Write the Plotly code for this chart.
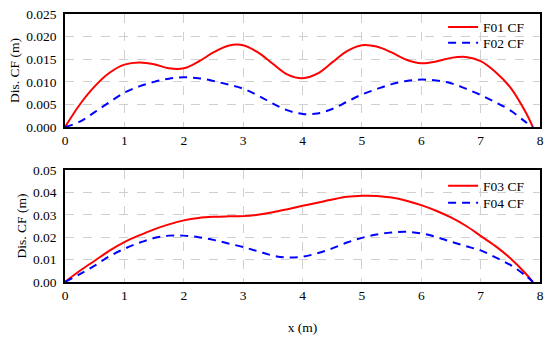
import plotly.graph_objects as go
from plotly.subplots import make_subplots

x = [0, 0.25, 0.5, 0.75, 1.0, 1.25, 1.5, 1.75, 2.0, 2.25, 2.5, 2.75, 3.0, 3.25, 3.5, 3.75,
     4.0, 4.25, 4.5, 4.75, 5.0, 5.25, 5.5, 5.75, 6.0, 6.25, 6.5, 6.75, 7.0, 7.25, 7.5, 7.75, 7.88]

f01 = [0, 0.0050, 0.0090, 0.0120, 0.0138, 0.0143, 0.0139, 0.0130, 0.0130, 0.0145, 0.0165, 0.0180,
       0.0181, 0.0165, 0.0140, 0.0116, 0.0108, 0.0118, 0.0143, 0.0168, 0.0181, 0.0178, 0.0165,
       0.0149, 0.0141, 0.0145, 0.0153, 0.0155, 0.0146, 0.0122, 0.0088, 0.0035, 0]
f02 = [0, 0.0012, 0.0033, 0.0055, 0.0076, 0.0090, 0.0100, 0.0107, 0.0110, 0.0108, 0.0102, 0.0094,
       0.0085, 0.0070, 0.0052, 0.0037, 0.0029, 0.0030, 0.0040, 0.0056, 0.0072, 0.0084, 0.0095,
       0.0102, 0.0105, 0.0103, 0.0097, 0.0085, 0.0071, 0.0055, 0.0037, 0.0012, 0]
f03 = [0, 0.0050, 0.0095, 0.0140, 0.0178, 0.0208, 0.0235, 0.0257, 0.0275, 0.0286, 0.0291, 0.0293,
       0.0294, 0.0300, 0.0311, 0.0325, 0.0340, 0.0354, 0.0368, 0.0380, 0.0385, 0.0384, 0.0377,
       0.0363, 0.0343, 0.0318, 0.0288, 0.0251, 0.0206, 0.0160, 0.0106, 0.0040, 0]
f04 = [0, 0.0035, 0.0073, 0.0115, 0.0148, 0.0175, 0.0196, 0.0207, 0.0207, 0.0200, 0.0188, 0.0172,
       0.0156, 0.0137, 0.0118, 0.0109, 0.0113, 0.0128, 0.0150, 0.0176, 0.0197, 0.0212, 0.0221,
       0.0224, 0.0217, 0.0201, 0.0180, 0.0160, 0.0141, 0.0110, 0.0076, 0.0030, 0]

FONT = "Liberation Serif"
FS = 13.5
RED = "#ff0000"
BLUE = "#0000ff"
DASH = "8px,6px"

fig = make_subplots(rows=2, cols=1, vertical_spacing=0.16)

fig.add_trace(go.Scatter(x=x, y=f01, name="F01 CF", mode="lines", line_shape="spline", showlegend=True,
                         line=dict(color=RED, width=2), legend="legend"), row=1, col=1)
fig.add_trace(go.Scatter(x=x, y=f02, name="F02 CF", mode="lines", line_shape="spline", showlegend=True,
                         line=dict(color=BLUE, width=2, dash=DASH), legend="legend2"), row=1, col=1)
fig.add_trace(go.Scatter(x=x, y=f03, name="F03 CF", mode="lines", line_shape="spline", showlegend=True,
                         line=dict(color=RED, width=2), legend="legend3"), row=2, col=1)
fig.add_trace(go.Scatter(x=x, y=f04, name="F04 CF", mode="lines", line_shape="spline", showlegend=True,
                         line=dict(color=BLUE, width=2, dash=DASH), legend="legend4"), row=2, col=1)

axis_common = dict(showline=True, linecolor="black", linewidth=1.5, mirror=True,
                   showgrid=True, gridcolor="#d0d0d0", griddash="dash", gridwidth=1,
                   zeroline=False, ticks="", automargin=False, ticklabeloverflow="allow",
                   tickfont=dict(family=FONT, size=FS, color="black"))

fig.update_xaxes(range=[0, 8], dtick=1, **axis_common)
fig.update_yaxes(ticklabelstandoff=4, **axis_common)
ytitle = dict(text="Dis. CF (m)", font=dict(family=FONT, size=FS, color="black"), standoff=3)
fig.update_yaxes(range=[0, 0.025], dtick=0.005, tickformat=".3f", row=1, col=1, title=ytitle)
fig.update_yaxes(range=[0, 0.05], dtick=0.01, tickformat=".2f", row=2, col=1, title=ytitle)
fig.update_xaxes(row=2, col=1, title=dict(text="x (m)", font=dict(family=FONT, size=FS, color="black"), standoff=21))


def leg(yc):
    return dict(x=0.796, y=yc, xanchor="left", yanchor="middle", bgcolor="rgba(0,0,0,0)",
                font=dict(family=FONT, size=FS, color="black"), itemwidth=30, visible=True)


fig.update_layout(
    width=550, height=339,
    margin=dict(l=65, r=10, t=14, b=57),
    paper_bgcolor="white", plot_bgcolor="white",
    font=dict(family=FONT, size=FS, color="black"),
    showlegend=True,
    yaxis=dict(domain=[0.578, 1.0]),
    yaxis2=dict(domain=[0.0, 0.418]),
    legend=leg(0.951),
    legend2=leg(0.892),
    legend3=leg(0.358),
    legend4=leg(0.295),
)

fig.write_html("out.html", config={"displayModeBar": False},
               post_script="document.body.style.margin='0';")
